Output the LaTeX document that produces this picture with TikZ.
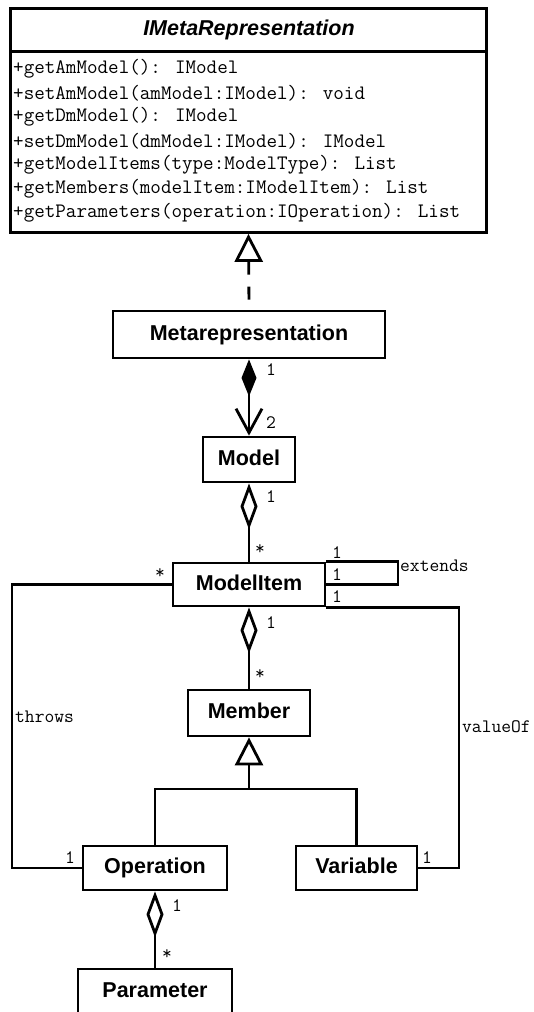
\documentclass[tikz,border=0pt]{standalone}
\usepackage{fontspec}
\newfontfamily\clsfont{Liberation Sans}
\usetikzlibrary{arrows.meta}
\begin{document}
\begin{tikzpicture}[x=1pt,y=-1pt,
  conn/.style={line width=2.8pt},
  cls/.style={draw, line width=2.8pt, inner sep=0pt,
    font=\clsfont\bfseries\fontsize{21.5}{24}\selectfont,
    text height=15.5pt, text depth=4.5pt},
  lbl/.style={font=\ttfamily\fontsize{19}{19}\selectfont, inner sep=0pt},
  meth/.style={font=\ttfamily\fontsize{20.5}{20.5}\selectfont, inner sep=0pt, anchor=west},
  agg/.style={{Diamond[fill=white,length=46pt,width=17pt]}-},
  gen/.style={-{Triangle[fill=white,length=28pt,width=28pt]}},
]
\useasboundingbox (0,0) rectangle (534,1012);
\clip (0,0) rectangle (534,1012);

% interface box
\node[draw, line width=2.8pt, minimum width=476pt, minimum height=224pt, inner sep=0pt] (imeta) at (248.5,120.5) {};
\draw[conn] ([yshift=-44pt]imeta.north west) -- ([yshift=-44pt]imeta.north east);
\node[font=\clsfont\bfseries\itshape\fontsize{21.5}{24}\selectfont, inner sep=0pt] (title) at (249,30) {IMetaRepresentation};
\node[meth] (m1) at (13,69) {+getAmModel(): IModel};
\node[meth] (m2) at (13,93) {+setAmModel(amModel:IModel): void};
\node[meth] (m3) at (13,117) {+getDmModel(): IModel};
\node[meth] (m4) at (13,141) {+setDmModel(dmModel:IModel): IModel};
\node[meth] (m5) at (13,165) {+getModelItems(type:ModelType): List};
\node[meth] (m6) at (13,189) {+getMembers(modelItem:IModelItem): List};
\node[meth] (m7) at (13,213) {+getParameters(operation:IOperation): List};

% classes
\node[cls, minimum width=272pt, minimum height=47pt] (meta) at (249,334.5) {Metarepresentation};
\node[cls, minimum width=92pt, minimum height=45pt] (model) at (249,459.5) {Model};
\node[cls, minimum width=152pt, minimum height=43pt] (mi) at (249,584.5) {ModelItem};
\node[cls, minimum width=122pt, minimum height=46pt] (member) at (249,713) {Member};
\node[cls, minimum width=144pt, minimum height=44pt] (op) at (155,868) {Operation};
\node[cls, minimum width=121pt, minimum height=44pt] (var) at (356.5,868) {Variable};
\node[cls, minimum width=154pt, minimum height=45pt] (param) at (155,991.5) {Parameter};

% realization
\draw[conn, gen, dash pattern=on 13pt off 12pt, dash phase=15pt] (meta.north) -- (imeta.south);

% composition
\draw[conn, {Diamond[fill=black,length=37pt,width=15pt]}-{Straight Barb[length=24pt,width=26pt]}] (meta.south) -- (model.north);
\node[lbl] (c1) at (271,370) {1};
\node[lbl] (c2) at (271,423) {2};

% model -> modelitem
\draw[conn, agg] (model.south) -- (mi.north);
\node[lbl] (a1) at (271,497) {1};
\node[lbl] (a2) at (260,550) {*};

% extends loop
\coordinate (ext) at (398,575);
\draw[conn] (mi.north east) -| (ext) |- (mi.east);
\node[lbl] (e1) at (337,553) {1};
\node[lbl] (e2) at (337,575) {1};
\node[lbl, anchor=west] (extl) at (400,566) {extends};

% valueOf
\coordinate (vo) at (459,700);
\draw[conn] (mi.south east) -| (vo) |- (var.east);
\node[lbl] (v1) at (337,597) {1};
\node[lbl] (v2) at (427,858) {1};
\node[lbl, anchor=west] (vol) at (462,727) {valueOf};

% throws
\coordinate (th) at (12,700);
\draw[conn] (mi.west) -| (th) |- (op.west);
\node[lbl] (t1) at (160,574) {*};
\node[lbl] (t2) at (70,858) {1};
\node[lbl, anchor=west] (thl) at (15,717) {throws};

% modelitem -> member
\draw[conn, agg] (mi.south) -- (member.north);
\node[lbl] (b1) at (271,623) {1};
\node[lbl] (b2) at (260,675) {*};

% generalization
\coordinate (junc) at (249,789);
\draw[conn, gen] (junc) -- (member.south);
\draw[conn] (op.north) |- (junc) -| (var.north);

% operation -> parameter
\draw[conn, agg] (op.south) -- (param.north);
\node[lbl] (p1) at (177,906) {1};
\node[lbl] (p2) at (167,955) {*};
\end{tikzpicture}
\end{document}
